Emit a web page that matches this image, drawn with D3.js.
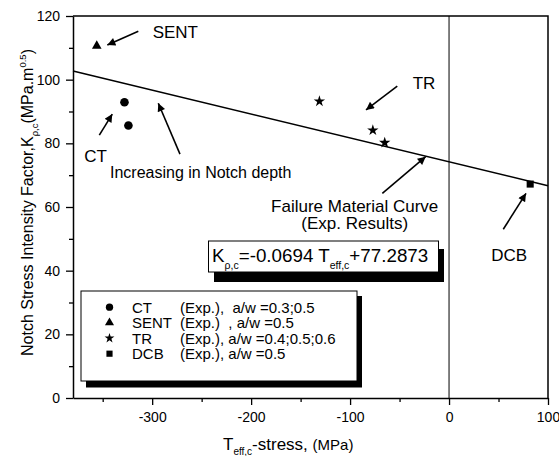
<html>

<head>
  <meta charset="utf-8">
  <title>Notch stress intensity vs T-stress</title>
  <script type="text/javascript" src="https://cdn.jsdelivr.net/npm/d3@7"></script>
  <style>
    body { margin: 0; background: white; }
    text { font-family: "Liberation Sans", Arial, sans-serif; white-space: pre; }
  </style>
</head>

<body>
  <script type="text/javascript">
    // Data
    const ctT = [-328, -324];
    const ctK = [92.9, 85.6];
    const sentT = [-356];
    const sentK = [110.6];
    const trT = [-131, -77, -65];
    const trK = [93.2, 84.1, 80.2];
    const dcbT = [82];
    const dcbK = [67.2];

    // Failure material curve (drawn line ends)
    const curveT = [-380, 100];
    const curveK = [102.7, 66.7];

    const xTicks = [-300, -200, -100, 0, 100];
    const yTicks = [0, 20, 40, 60, 80, 100, 120];

    const legendNames = ["CT", "SENT", "TR", "DCB"];
    const legendNotes = ["(Exp.),  a/w =0.3;0.5", "(Exp.)  , a/w =0.5", "(Exp.), a/w =0.4;0.5;0.6", "(Exp.), a/w =0.5"];

    // Arrows: [tailT, tailK, headT, headK]
    const arrows = [
      [-314, 115.2, -345.3, 110.9],
      [-353.4, 82.6, -340.3, 89.2],
      [-271.9, 76.6, -293.8, 92.6],
      [-52.3, 98.0, -83.9, 90.5],
      [-67.4, 64.3, -23.6, 75.8],
      [54.8, 53.0, 77.8, 64.3]
    ];

    // Width og height
    const w = 559;
    const h = 456;
    const mLeft = 73, mRight = 548, mTop = 16, mBottom = 398;

    const xScale = d3.scaleLinear().domain([-380, 100]).range([mLeft, mRight]);
    const yScale = d3.scaleLinear().domain([0, 120]).range([mBottom, mTop]);

    const svg = d3.select("body")
      .append("svg")
      .attr("width", w)
      .attr("height", h);

    svg.append("defs").append("marker")
      .attr("id", "head")
      .attr("viewBox", "0 0 10 10")
      .attr("refX", 10)
      .attr("refY", 5)
      .attr("markerWidth", 11)
      .attr("markerHeight", 8)
      .attr("markerUnits", "userSpaceOnUse")
      .attr("orient", "auto")
      .append("path")
      .attr("d", "M0,0 L10,5 L0,10 Z")
      .attr("fill", "black");

    // Frame (top + right)
    svg.append("path")
      .attr("d", `M${mLeft},${mTop} H${mRight} V${mBottom}`)
      .attr("fill", "none")
      .attr("stroke", "black")
      .attr("stroke-width", 1.5);

    // Vertical line at T = 0
    svg.append("line")
      .attr("x1", xScale(0)).attr("x2", xScale(0))
      .attr("y1", mTop).attr("y2", mBottom)
      .attr("stroke", "black")
      .attr("stroke-width", 1);

    // Axes
    svg.append("g")
      .attr("transform", `translate(0,${mBottom})`)
      .call(d3.axisBottom(xScale).tickValues(xTicks).tickFormat(d => String(d))
        .tickSize(7).tickSizeOuter(0).tickPadding(7));
    const xMinor = svg.append("g")
      .attr("transform", `translate(0,${mBottom})`)
      .call(d3.axisBottom(xScale).tickValues([-350, -250, -150, -50, 50]).tickSize(4).tickFormat(""));
    xMinor.select(".domain").remove();

    svg.append("g")
      .attr("transform", `translate(${mLeft},0)`)
      .call(d3.axisLeft(yScale).tickValues(yTicks).tickFormat(d => String(d))
        .tickSize(7).tickSizeOuter(0).tickPadding(6));
    const yMinor = svg.append("g")
      .attr("transform", `translate(${mLeft},0)`)
      .call(d3.axisLeft(yScale).tickValues([10, 30, 50, 70, 90, 110]).tickSize(4).tickFormat(""));
    yMinor.select(".domain").remove();

    svg.selectAll(".domain").attr("stroke-width", 1.5);
    svg.selectAll(".tick line").attr("stroke-width", 1.3);
    svg.selectAll(".tick text")
      .attr("font-family", "Liberation Sans, Arial, sans-serif")
      .attr("font-size", "14px")
      .attr("fill", "black");

    // Failure line
    svg.append("line")
      .attr("x1", xScale(curveT[0])).attr("y1", yScale(curveK[0]))
      .attr("x2", xScale(curveT[1])).attr("y2", yScale(curveK[1]))
      .attr("stroke", "black")
      .attr("stroke-width", 1.6);

    // Points
    function punkter(tv, kv, type, size) {
      svg.selectAll(null)
        .data(tv)
        .enter()
        .append("path")
        .attr("d", d3.symbol().type(type).size(size))
        .attr("transform", (d, i) => `translate(${xScale(d)},${yScale(kv[i])})`)
        .attr("fill", "black");
    }
    punkter(ctT, ctK, d3.symbolCircle, 58);
    punkter(sentT, sentK, d3.symbolTriangle, 40);
    punkter(trT, trK, d3.symbolStar, 40);
    punkter(dcbT, dcbK, d3.symbolSquare, 50);

    // Arrows
    svg.selectAll("line.arrow")
      .data(arrows)
      .enter()
      .append("line")
      .attr("class", "arrow")
      .attr("x1", d => xScale(d[0])).attr("y1", d => yScale(d[1]))
      .attr("x2", d => xScale(d[2])).attr("y2", d => yScale(d[3]))
      .attr("stroke", "black")
      .attr("stroke-width", 1.6)
      .attr("marker-end", "url(#head)");

    // Labels
    function label(txt, t, k, size, anchor) {
      svg.append("text")
        .attr("x", xScale(t)).attr("y", yScale(k))
        .attr("font-size", size + "px")
        .attr("text-anchor", anchor || "start")
        .text(txt);
    }
    label("SENT", -299.5, 113.2, 17);
    label("CT", -368.6, 74.0, 17);
    label("Increasing in Notch depth", -342.6, 69.2, 16);
    label("TR", -36.7, 97.0, 17);
    label("Failure Material Curve", -95.3, 58.5, 17, "middle");
    label("(Exp. Results)", -95.3, 53.0, 17, "middle");
    label("DCB", 42.6, 42.9, 17);

    // Equation box with shadow
    const eq = svg.append("g");
    eq.append("rect").attr("x", 214).attr("y", 249).attr("width", 230).attr("height", 33).attr("fill", "black");
    eq.append("rect").attr("x", 208.5).attr("y", 241).attr("width", 230).attr("height", 31)
      .attr("fill", "white").attr("stroke", "black").attr("stroke-width", 1);
    const eqText = eq.append("text").attr("x", 212).attr("y", 261.5).attr("font-size", "18.8px");
    eqText.append("tspan").text("K");
    eqText.append("tspan").attr("font-size", "10.5px").attr("dy", 7).text("\u03c1,c");
    eqText.append("tspan").attr("dy", -7).text("=-0.0694 T");
    eqText.append("tspan").attr("font-size", "10.5px").attr("dy", 7).text("eff,c");
    eqText.append("tspan").attr("dy", -7).text("+77.2873");

    // Legend with shadow
    const lg = svg.append("g");
    lg.append("rect").attr("x", 86).attr("y", 296).attr("width", 276).attr("height", 91.5).attr("fill", "black");
    lg.append("rect").attr("x", 81).attr("y", 291).attr("width", 276).attr("height", 90)
      .attr("fill", "white").attr("stroke", "black").attr("stroke-width", 1);
    const lgTypes = [d3.symbolCircle, d3.symbolTriangle, d3.symbolStar, d3.symbolSquare];
    const lgSizes = [42, 36, 30, 38];
    const rowY = [307.2, 322.7, 338.2, 353.7];
    legendNames.forEach(function (n, i) {
      lg.append("path")
        .attr("d", d3.symbol().type(lgTypes[i]).size(lgSizes[i]))
        .attr("transform", `translate(109.5,${rowY[i]})`)
        .attr("fill", "black");
      lg.append("text").attr("x", 132).attr("y", rowY[i] + 5.5).attr("font-size", "15px").text(n);
      lg.append("text").attr("x", 180).attr("y", rowY[i] + 5.5).attr("font-size", "15px")
        .attr("textLength", null).text(legendNotes[i]);
    });

    // Axis titles
    const xt = svg.append("text").attr("x", 223).attr("y", 450).attr("font-size", "17px");
    xt.append("tspan").text("T");
    xt.append("tspan").attr("font-size", "10px").attr("dy", 5).text("eff,c");
    xt.append("tspan").attr("dy", -5).text("-stress, ");
    xt.append("tspan").attr("font-size", "15px").text("(MPa)");

    const yt = svg.append("text")
      .attr("transform", "translate(33,202.5) rotate(-90)")
      .attr("text-anchor", "middle")
      .attr("font-size", "16px");
    yt.append("tspan").text("Notch Stress Intensity Factor,K");
    yt.append("tspan").attr("font-size", "9.5px").attr("dy", 5).text("\u03c1,c");
    yt.append("tspan").attr("dy", -5).text("(MPa.m");
    yt.append("tspan").attr("font-size", "9.5px").attr("dy", -7).text("0.5");
    yt.append("tspan").attr("dy", 7).text(")");
  </script>
</body>

</html>
